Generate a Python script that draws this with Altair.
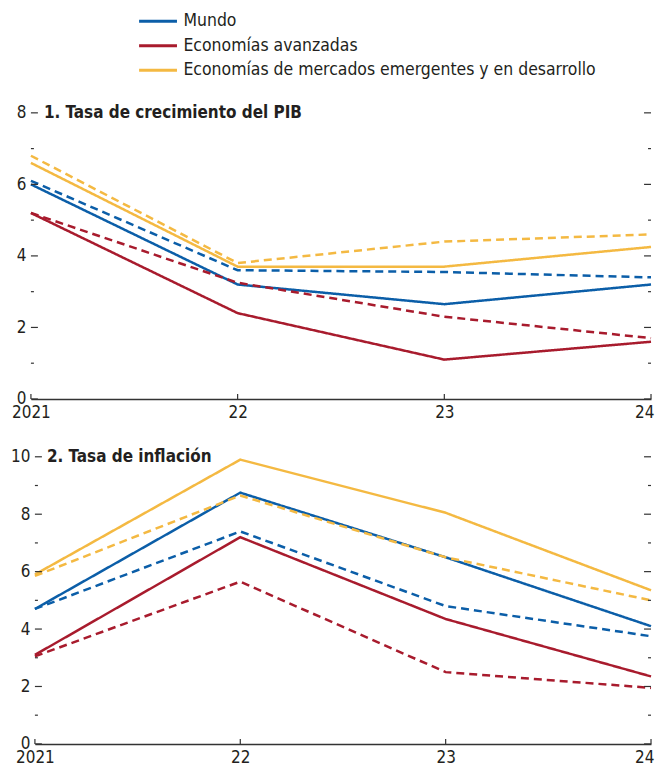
import altair as alt
import pandas as pd

FONT = "DejaVu Sans Condensed"
TXT = "#231f20"

years = [2021, 2022, 2023, 2024]
x_labels = ["2021", "22", "23", "24"]
series = ["Mundo", "Economías avanzadas", "Economías de mercados emergentes y en desarrollo"]
colors = ["#0b5ea8", "#a81b2d", "#f4b942"]
kinds = ["Proyección actual", "Proyección anterior"]
titles = ["1. Tasa de crecimiento del PIB", "2. Tasa de inflación"]

# Panel 1: GDP growth
gdp_world = [6.0, 3.2, 2.65, 3.2]
gdp_world_prev = [6.1, 3.6, 3.55, 3.4]
gdp_adv = [5.2, 2.4, 1.1, 1.6]
gdp_adv_prev = [5.2, 3.25, 2.3, 1.7]
gdp_emde = [6.6, 3.7, 3.7, 4.25]
gdp_emde_prev = [6.8, 3.8, 4.4, 4.6]

# Panel 2: inflation
inf_world = [4.7, 8.75, 6.5, 4.1]
inf_world_prev = [4.7, 7.4, 4.8, 3.75]
inf_adv = [3.1, 7.2, 4.35, 2.35]
inf_adv_prev = [3.05, 5.65, 2.5, 1.95]
inf_emde = [5.9, 9.9, 8.05, 5.35]
inf_emde_prev = [5.85, 8.65, 6.5, 5.0]

y_major_1 = [0, 2, 4, 6, 8]
y_minor_1 = [1, 3, 5, 7]
y_max_1 = 8
y_major_2 = [0, 2, 4, 6, 8, 10]
y_minor_2 = [1, 3, 5, 7, 9]
y_max_2 = 10


def make_df(cols):
    rows = []
    for (s, k, vals) in cols:
        for y, v in zip(years, vals):
            rows.append({"series": s, "kind": k, "year": y, "value": v})
    return pd.DataFrame(rows)


df1 = make_df([
    (series[0], kinds[0], gdp_world), (series[0], kinds[1], gdp_world_prev),
    (series[1], kinds[0], gdp_adv), (series[1], kinds[1], gdp_adv_prev),
    (series[2], kinds[0], gdp_emde), (series[2], kinds[1], gdp_emde_prev),
])
df2 = make_df([
    (series[0], kinds[0], inf_world), (series[0], kinds[1], inf_world_prev),
    (series[1], kinds[0], inf_adv), (series[1], kinds[1], inf_adv_prev),
    (series[2], kinds[0], inf_emde), (series[2], kinds[1], inf_emde_prev),
])

label_expr = ""
for y, l in zip(years, x_labels):
    label_expr += f"datum.value == {y} ? '{l}' : "
label_expr += "''"

legend = alt.Legend(
    orient="none", legendX=107, legendY=-102, title=None, direction="vertical",
    symbolType="stroke", symbolSize=1444, symbolStrokeWidth=3, clipHeight=20,
    labelFont=FONT, labelFontSize=17.5, labelColor=TXT, labelOffset=5, labelLimit=0,
    rowPadding=4.6, padding=0,
)

TICK_COLOR = "#333333"


def panel(df, title, ymax, major, minor, height, x0, ylabpad, title_dx):
    width = 622
    xscale = alt.Scale(domain=[years[0], years[-1]], nice=False, zero=False, range=[x0, width])
    yscale = alt.Scale(domain=[0, ymax], nice=False)
    xaxis = alt.Axis(
        values=years, labelExpr=label_expr, title=None, grid=False, ticks=False, tickSize=0,
        domain=True, domainColor=TICK_COLOR, domainWidth=1.5, labelPadding=6,
        labelFont=FONT, labelFontSize=17, labelColor=TXT, labelFlush=False,
        labelAlign=alt.ConditionalAxisLabelAlign(
            condition={"test": f"datum.value == {years[-1]}", "value": "right"}, value="center"),
        labelOffset=alt.ConditionalAxisNumber(
            condition={"test": f"datum.value == {years[-1]}", "value": 3}, value=0))
    yaxis = alt.Axis(
        values=major, title=None, grid=False, ticks=False, tickSize=0, domain=False,
        labelPadding=ylabpad, labelFont=FONT, labelFontSize=17, labelColor=TXT)
    x = alt.X("year:Q", scale=xscale, axis=xaxis)
    y = alt.Y("value:Q", scale=yscale, axis=yaxis)
    lines = alt.Chart(df).mark_line(strokeWidth=2.5).encode(
        x=x, y=y,
        color=alt.Color("series:N", scale=alt.Scale(domain=series, range=colors), legend=legend),
        strokeDash=alt.StrokeDash("kind:N", scale=alt.Scale(domain=kinds, range=[[1, 0], [8, 5]]), legend=None),
    )
    maj = pd.DataFrame({"value": major})
    mnr = pd.DataFrame({"value": minor})
    left_major = alt.Chart(maj).mark_rule(x2Offset=7, color=TICK_COLOR, strokeWidth=1.2).encode(
        x=alt.datum(years[0]), x2=alt.datum(years[0]), y=y)
    left_minor = alt.Chart(mnr).mark_rule(x2Offset=3, color=TICK_COLOR, strokeWidth=1.2).encode(
        x=alt.datum(years[0]), x2=alt.datum(years[0]), y=y)
    right_major = alt.Chart(maj).mark_rule(x2Offset=-7, color=TICK_COLOR, strokeWidth=1.2).encode(
        x=alt.datum(years[-1]), x2=alt.datum(years[-1]), y=y)
    right_minor = alt.Chart(mnr).mark_rule(x2Offset=-3, color=TICK_COLOR, strokeWidth=1.2).encode(
        x=alt.datum(years[-1]), x2=alt.datum(years[-1]), y=y)
    xt = alt.Chart(pd.DataFrame({"year": years})).mark_rule(y2Offset=-5, color=TICK_COLOR, strokeWidth=1.2).encode(
        x=x, y=alt.datum(0), y2=alt.datum(0))
    ttl = alt.Chart(pd.DataFrame({"t": [title]})).mark_text(
        align="left", baseline="middle", dx=title_dx, font=FONT, fontSize=17, fontWeight="bold", color=TXT
    ).encode(x=alt.datum(years[0]), y=alt.datum(ymax), text="t:N")
    return alt.layer(lines, left_major, left_minor, right_major, right_minor, xt, ttl).properties(
        width=width, height=height)


p1 = panel(df1, titles[0], y_max_1, y_major_1, y_minor_1, 287, 0, 5, 13)
p2 = panel(df2, titles[1], y_max_2, y_major_2, y_minor_2, 288, 4, 1, 12)

chart = alt.vconcat(p1, p2, spacing=58, bounds="flush").properties(
    padding={"left": 2, "top": 2, "right": 0, "bottom": 0}
).configure_view(stroke=None)

chart.save("out.html", embed_options={"renderer": "svg", "actions": False})
